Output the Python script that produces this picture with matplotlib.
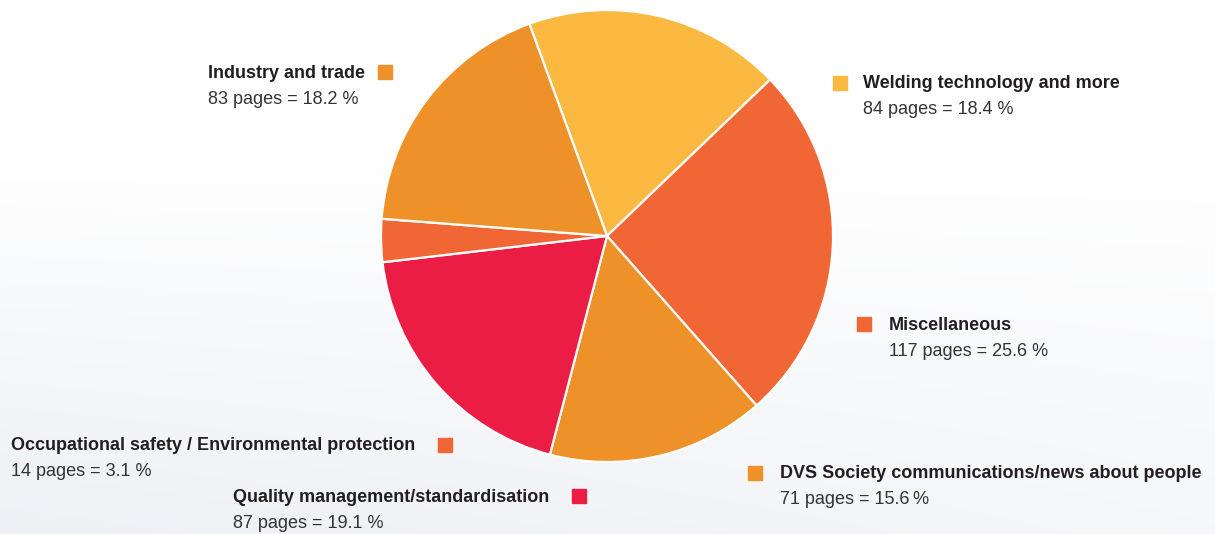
import numpy as np
import matplotlib
matplotlib.use("Agg")
import matplotlib.pyplot as plt

# slices, clockwise from the top-left edge of "Welding"
labels = ["Welding technology and more", "Miscellaneous",
          "DVS Society communications/news about people",
          "Quality management/standardisation",
          "Occupational safety / Environmental protection",
          "Industry and trade"]
pages = [84, 117, 71, 87, 14, 83]
subtexts = ["84 pages = 18.4 %", "117 pages = 25.6 %", "71 pages = 15.6\u2009%",
            "87 pages = 19.1 %", "14 pages = 3.1 %", "83 pages = 18.2 %"]
colors = ["#FBB942", "#F06634", "#EF9129", "#EB1D45", "#F06634", "#EF9129"]

W, H = 1215, 534
plt.rcParams['font.family'] = ['Liberation Sans', 'DejaVu Sans']

fig = plt.figure(figsize=(W / 100, H / 100), dpi=100)

# faint background shading, stronger towards the bottom left
bg = fig.add_axes([0, 0, 1, 1])
yy, xx = np.mgrid[0:1:200j, 0:1:400j]
shade = np.clip((yy * 1.2 - 0.35) * (1.1 - 0.5 * xx), 0, 1)
top = np.array([1.0, 1.0, 1.0])
bot = np.array([0.925, 0.937, 0.955])
img = top + shade[..., None] * (bot - top)
bg.imshow(img, extent=[0, 1, 0, 1], aspect="auto", origin="upper")
bg.axis("off")

ax = fig.add_axes([0, 0, 1, 1])
ax.patch.set_alpha(0)

ax.pie(pages, colors=colors, startangle=110.1, counterclock=False,
       center=(607, H - 236), radius=226, frame=True,
       wedgeprops=dict(edgecolor="white", linewidth=1.6))
ax.set_xlim(0, W)
ax.set_ylim(0, H)
ax.set_aspect("equal")
ax.axis("off")

# label layout: (text left x, bold line y, square x)
layout = [
    (863, 84, 833),
    (889, 325, 857),
    (780, 474, 748),
    (233, 497, 572),
    (11, 446, 438),
    (208, 73, 378),
]
for (tx, ty, sx), lab, sub, col in zip(layout, labels, subtexts, colors):
    ax.text(tx, H - ty, lab, fontsize=13, fontweight="bold", color="#231F20",
            ha="left", va="center")
    ax.text(tx, H - ty - 26, sub, fontsize=13, color="#333333",
            ha="left", va="center")
    ax.add_patch(plt.Rectangle((sx, H - ty - 6), 14, 14, color=col))

fig.savefig("out.png", dpi=100)
